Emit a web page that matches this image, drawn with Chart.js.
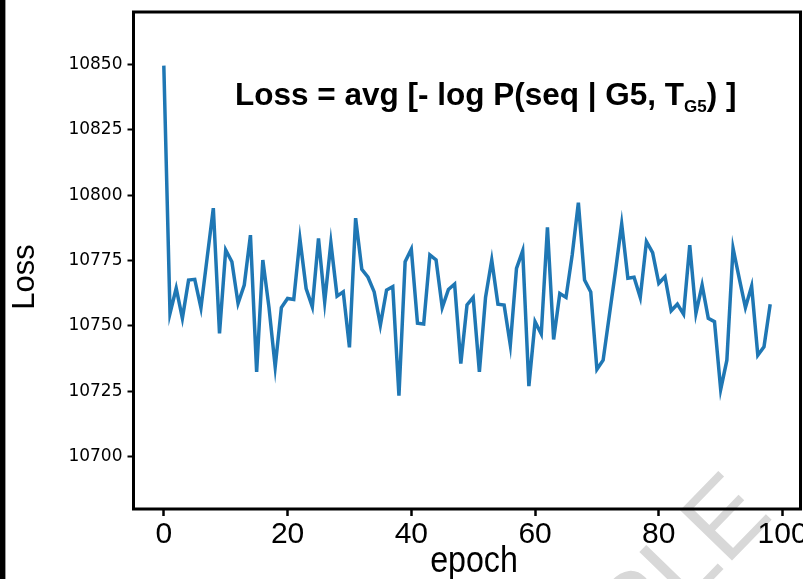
<!DOCTYPE html>
<html>
<head>
<meta charset="utf-8">
<script src="https://cdn.jsdelivr.net/npm/chart.js@4/dist/chart.umd.min.js"></script>
<style>
    body { margin: 0; background: #ffffff; }
    #wrap { position: relative; width: 803px; height: 579px; }
</style>
</head>
<body>
<div id="wrap"><canvas id="lossChart" width="803" height="579"></canvas></div>
<script>
const epochs = Array.from({ length: 99 }, (_, i) => i);
const lossValues = [
    10849.5, 10754.8, 10764.4, 10752.9, 10767.5, 10767.8, 10756.9, 10776.0, 10795.0, 10747.1,
    10779.0, 10774.5, 10758.6, 10765.6, 10784.7, 10732.4, 10775.2, 10757.0, 10734.3, 10757.0,
    10760.5, 10760.1, 10783.2, 10764.3, 10757.3, 10783.4, 10759.2, 10781.8, 10761.4, 10763.0,
    10741.8, 10791.2, 10771.6, 10768.6, 10763.0, 10750.3, 10763.7, 10765.0, 10723.3, 10774.5,
    10779.3, 10751.0, 10750.7, 10777.1, 10775.2, 10757.0, 10763.9, 10766.0, 10735.6, 10758.0,
    10760.9, 10732.4, 10761.0, 10775.2, 10758.3, 10758.0, 10742.7, 10772.0, 10778.7, 10727.0,
    10751.6, 10746.9, 10787.7, 10744.8, 10762.4, 10760.9, 10777.1, 10797.1, 10767.5, 10763.0,
    10733.4, 10736.9, 10754.0, 10771.0, 10789.0, 10768.2, 10768.6, 10760.9, 10782.2, 10778.0,
    10766.3, 10768.8, 10755.8, 10758.3, 10754.5, 10780.9, 10754.8, 10765.6, 10752.9, 10751.6,
    10725.7, 10736.9, 10779.7, 10768.2, 10757.0, 10765.2, 10738.8, 10742.0, 10758.3
];
const xTicks = [0, 20, 40, 60, 80, 100];
const yTicks = [10700, 10725, 10750, 10775, 10800, 10825, 10850];
const titleParts = ["Loss = avg [- log P(seq | G5, T", "G5", ") ]"];
const xLabel = "epoch";
const yLabel = "Loss";
const watermark = "SAMPLE";

const narrowFont = "'Liberation Sans Narrow', 'Arial Narrow', 'Liberation Sans', Arial, sans-serif";

// frame, title, axis labels and the faint watermark
const decorations = {
    id: "decorations",
    beforeDraw(chart) {
        const ctx = chart.ctx;
        ctx.save();
        ctx.fillStyle = "#000000";
        ctx.fillRect(0, 0, 5, chart.height);
        ctx.fillStyle = "#9a9a9a";
        ctx.fillRect(5, 0, 1, chart.height);

        ctx.translate(478, 822);
        ctx.rotate(-0.8);
        ctx.fillStyle = "#d8d8d8";
        ctx.font = "105px 'Liberation Sans', Arial, sans-serif";
        ctx.textAlign = "left";
        ctx.textBaseline = "alphabetic";
        ctx.fillText(watermark, 0, 0);
        ctx.restore();
    },
    afterDraw(chart) {
        const ctx = chart.ctx;
        const area = chart.chartArea;
        ctx.save();

        ctx.strokeStyle = "#000000";
        ctx.lineWidth = 3;
        ctx.strokeRect(area.left, area.top, area.right - area.left, area.bottom - area.top);

        // title with subscript
        ctx.fillStyle = "#000000";
        ctx.textBaseline = "alphabetic";
        ctx.textAlign = "left";
        const mainFont = "bold 31.5px 'Liberation Sans', Arial, sans-serif";
        const subFont = "bold 17px 'Liberation Sans', Arial, sans-serif";
        let x = 235;
        ctx.font = mainFont;
        ctx.fillText(titleParts[0], x, 105);
        x += ctx.measureText(titleParts[0]).width;
        ctx.font = subFont;
        ctx.fillText(titleParts[1], x, 112);
        x += ctx.measureText(titleParts[1]).width;
        ctx.font = mainFont;
        ctx.fillText(titleParts[2], x, 105);

        // axis titles (x label looks condensed in the original)
        ctx.save();
        ctx.translate(474, 562);
        ctx.scale(0.87, 1);
        ctx.textAlign = "center";
        ctx.textBaseline = "middle";
        ctx.font = "37px " + narrowFont;
        ctx.fillText(xLabel, 0, 0);
        ctx.restore();

        ctx.save();
        ctx.translate(25, 277);
        ctx.rotate(-Math.PI / 2);
        ctx.textAlign = "center";
        ctx.textBaseline = "middle";
        ctx.font = "31px 'Liberation Sans', Arial, sans-serif";
        ctx.fillText(yLabel, 0, 0);
        ctx.restore();

        ctx.restore();
    }
};

new Chart(document.getElementById("lossChart"), {
    type: "line",
    data: {
        datasets: [
            {
                data: epochs.map((e, i) => ({ x: e, y: lossValues[i] })),
                borderColor: "#1f77b4",
                borderWidth: 3.5,
                pointRadius: 0,
                tension: 0,
                fill: false,
            },
        ],
    },
    options: {
        responsive: false,
        animation: false,
        layout: {
            padding: { left: 0, right: 2.5, top: 12, bottom: 0 },
        },
        plugins: {
            legend: { display: false },
            tooltip: { enabled: false },
        },
        scales: {
            x: {
                type: "linear",
                min: -4.9,
                max: 102.9,
                afterBuildTicks: (axis) => {
                    axis.ticks = xTicks.map((v) => ({ value: v }));
                },
                afterFit: (axis) => {
                    axis.height = 70;
                    axis.paddingLeft = 0;
                    axis.paddingRight = 0;
                },
                border: { display: false },
                grid: {
                    display: true,
                    drawOnChartArea: false,
                    drawTicks: true,
                    tickLength: 7,
                    tickWidth: 2.5,
                    tickColor: "#000000",
                },
                ticks: {
                    color: "#000000",
                    font: { family: narrowFont, size: 30 },
                    padding: 1,
                    maxRotation: 0,
                    autoSkip: false,
                },
            },
            y: {
                min: 10680,
                max: 10870,
                afterBuildTicks: (axis) => {
                    axis.ticks = yTicks.map((v) => ({ value: v }));
                },
                afterFit: (axis) => {
                    axis.width = 133.5;
                    axis.paddingTop = 0;
                    axis.paddingBottom = 0;
                },
                border: { display: false },
                grid: {
                    display: true,
                    drawOnChartArea: false,
                    drawTicks: true,
                    tickLength: 6,
                    tickWidth: 2,
                    tickColor: "#000000",
                },
                ticks: {
                    color: "#000000",
                    font: { family: "'DejaVu Sans', sans-serif", size: 17 },
                    padding: 5,
                    autoSkip: false,
                    callback: (value) => String(value),
                },
            },
        },
    },
    plugins: [decorations],
});
</script>
</body>
</html>
